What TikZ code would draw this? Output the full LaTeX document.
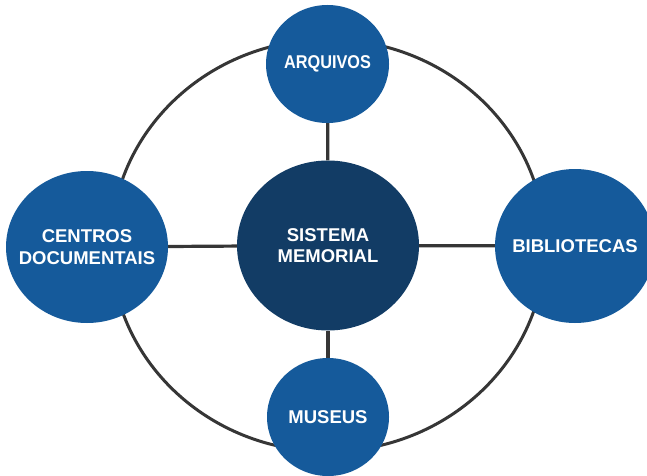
\documentclass[tikz,border=0pt]{standalone}
\usepackage{fontspec}
\setmainfont{Liberation Sans}
\newfontfamily\narrowsans[FakeStretch=0.88]{Liberation Sans}
\usetikzlibrary{shapes.geometric,backgrounds}

\definecolor{nodeblue}{HTML}{155A9B}
\definecolor{coreblue}{HTML}{123C65}
\definecolor{linegray}{HTML}{363636}

\tikzset{
  bubble/.style={ellipse, fill=nodeblue, draw=none, inner sep=-30pt,
    text=white, align=center,
    font=\fontsize{18.5}{21.5}\selectfont\bfseries},
  core/.style={bubble, fill=coreblue},
  link/.style={draw=linegray, line width=3.2pt},
  ring/.style={draw=linegray, line width=3pt}
}

\begin{document}
\begin{tikzpicture}[x=1pt, y=1pt]
  \clip (0,0) rectangle (647,475);

  % central node and the four institutions around it
  \node[core, minimum width=182pt, minimum height=170pt] (sys) at (328,229.5)
    {SISTEMA\\MEMORIAL};
  \node[bubble, minimum width=123pt, minimum height=118pt] (arq) at (327.5,411)
    {\narrowsans\bfseries ARQUIVOS};
  \node[bubble, minimum width=162pt, minimum height=152pt] (cen) at (87,228)
    {CENTROS\\DOCUMENTAIS};
  \node[bubble, minimum width=160pt, minimum height=154pt] (bib) at (575,229)
    {BIBLIOTECAS};
  \node[bubble, minimum width=122pt, minimum height=118pt] (mus) at (328,58)
    {MUSEUS};

  \begin{pgfonlayer}{background}
    \fill[white] (0,0) rectangle (647,475);
    % outer ring through the institutions
    \path[ring] (sys.center) ellipse [x radius=217pt, y radius=206pt];
    % spokes from the centre
    \path[link] (sys) -- (arq);
    \path[link] (sys) -- (mus);
    \path[link] (sys) -- (cen);
    \path[link] (sys) -- (bib);
  \end{pgfonlayer}
\end{tikzpicture}
\end{document}
